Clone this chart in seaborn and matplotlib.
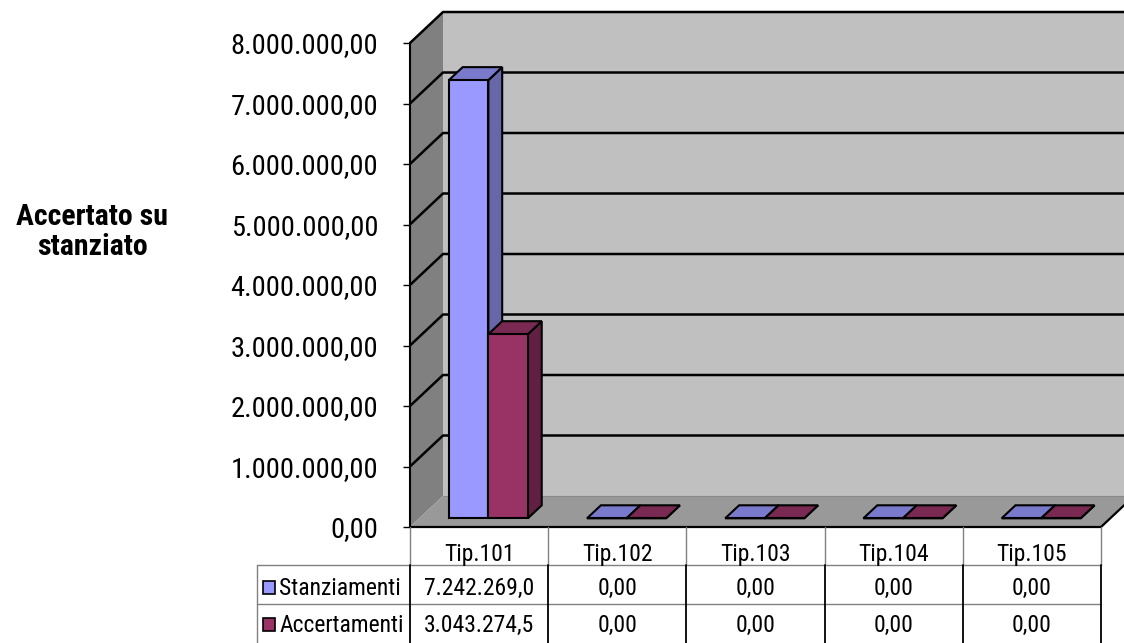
import numpy as np
import pandas as pd
import matplotlib
matplotlib.use("Agg")
import matplotlib.pyplot as plt
from matplotlib.patches import Polygon, Rectangle
from matplotlib.ticker import FuncFormatter
from matplotlib import font_manager
from matplotlib.colors import to_rgba
import seaborn as sns

# ---------------- data ----------------
categories = ["Tip.101", "Tip.102", "Tip.103", "Tip.104", "Tip.105"]
series = ["Stanziamenti", "Accertamenti"]
stanziamenti = [7242269.0, 0.0, 0.0, 0.0, 0.0]
accertamenti = [3043274.5, 0.0, 0.0, 0.0, 0.0]
y_ticks = [0, 1e6, 2e6, 3e6, 4e6, 5e6, 6e6, 7e6, 8e6]
y_label = "Accertato su\nstanziato"

front_colors = ["#9999FF", "#993366"]
side_colors = ["#6666A8", "#611F42"]
top_colors = ["#7A7ACC", "#7A2952"]

# ---------------- fonts ----------------
sns.set_style("white")
names = {f.name for f in font_manager.fontManager.ttflist}
narrow = None
for cand in ["Liberation Sans Narrow", "Arial Narrow", "Roboto Condensed", "Open Sans Condensed"]:
    if cand in names:
        narrow = cand
        break
if narrow:
    FAM = [narrow, "Liberation Sans", "DejaVu Sans"]
    k = 1.0
else:
    FAM = ["Liberation Sans", "DejaVu Sans"]
    k = 0.82
plt.rcParams["font.family"] = FAM
for key in ["text.color", "axes.labelcolor", "xtick.color", "ytick.color"]:
    plt.rcParams[key] = "black"


def it_fmt(v, dec=2):
    s = f"{v:,.{dec}f}"
    return s.replace(",", "X").replace(".", ",").replace("X", ".")


# ---------------- figure ----------------
W, H = 1124, 643
fig = plt.figure(figsize=(W / 100, H / 100), dpi=100)
ax = fig.add_axes([410 / W, 116 / H, 691 / W, 484 / H])
ax.set_facecolor("none")

df = pd.DataFrame({
    "Tipologia": categories * 2,
    "Serie": [series[0]] * len(categories) + [series[1]] * len(categories),
    "Valore": stanziamenti + accertamenti,
})

sns.barplot(data=df, x="Tipologia", y="Valore", hue="Serie",
            order=categories, hue_order=series, palette=front_colors,
            saturation=1, width=0.572, dodge=True, errorbar=None,
            edgecolor="black", linewidth=1.5, legend=False, ax=ax)
bars = list(ax.patches)

x0, x1 = -0.5, len(categories) - 0.5
ymax = 8e6
ax.set_xlim(x0, x1)
ax.set_ylim(0, ymax)
ax.set_xlabel("")
ax.set_ylabel("")
ax.set_xticks([])

# depth offsets in data units
dx = 33 / 138.2
dy = 31 / (484 / 8) * 1e6
f0, f1 = 0.28, 0.70

# walls and floor
ax.add_patch(Polygon([(x0 + dx, dy), (x1 + dx, dy), (x1 + dx, ymax + dy), (x0 + dx, ymax + dy)],
                     closed=True, facecolor="#C0C0C0", edgecolor="none", clip_on=False, zorder=0))
ax.add_patch(Polygon([(x0, 0), (x0 + dx, dy), (x0 + dx, ymax + dy), (x0, ymax)],
                     closed=True, facecolor="#808080", edgecolor="none", clip_on=False, zorder=0.5))
ax.add_patch(Polygon([(x0, 0), (x1, 0), (x1 + dx, dy), (x0 + dx, dy)],
                     closed=True, facecolor="#999999", edgecolor="none", clip_on=False, zorder=0.5))
ax.plot([x0 + dx, x1 + dx], [dy, dy], color="#8a8a8a", lw=0.8, clip_on=False, zorder=0.6)

# gridlines on walls
for v in y_ticks[1:]:
    ax.plot([x0, x0 + dx, x1 + dx], [v, v + dy, v + dy], color="black", lw=1.8,
            solid_capstyle="butt", clip_on=False, zorder=1)

# floor edges
ax.plot([x0, x1, x1 + dx], [0, 0, dy], color="black", lw=1.6, clip_on=False, zorder=2)

# 3D bars
ddx = (f1 - f0) * dx
ddy = (f1 - f0) * dy
bars_sorted = sorted(bars, key=lambda p: p.get_x())
for i, p in enumerate(bars_sorted):
    fc = p.get_facecolor()
    idx = 0 if np.allclose(fc, to_rgba(front_colors[0])) else 1
    x = p.get_x() + f0 * dx
    w = p.get_width()
    h = p.get_height()
    yb = f0 * dy
    p.set_x(x)
    p.set_y(yb)
    z = 3 + i * 0.1
    p.set_zorder(z)
    p.set_joinstyle("miter")
    side = Polygon([(x + w, yb), (x + w + ddx, yb + ddy), (x + w + ddx, yb + h + ddy), (x + w, yb + h)],
                   closed=True, facecolor=side_colors[idx], edgecolor="black", lw=1.5,
                   joinstyle="miter", zorder=z - 0.02, clip_on=False)
    top = Polygon([(x, yb + h), (x + w, yb + h), (x + w + ddx, yb + h + ddy), (x + ddx, yb + h + ddy)],
                  closed=True, facecolor=top_colors[idx], edgecolor="black", lw=1.5,
                  joinstyle="miter", zorder=z - 0.01, clip_on=False)
    ax.add_patch(side)
    ax.add_patch(top)

# axis styling
for s in ["top", "right", "bottom"]:
    ax.spines[s].set_visible(False)
ax.spines["left"].set_color("black")
ax.spines["left"].set_linewidth(1.5)
ax.spines["left"].set_zorder(5)
ax.set_yticks(y_ticks)
ax.yaxis.set_major_formatter(FuncFormatter(lambda v, pos: it_fmt(v)))
ax.tick_params(axis="y", length=5, width=1.0, pad=18, labelsize=20.5 * k,
               colors="black", left=True)
ax.grid(False)

fig.text(92 / W, 1 - 232 / H, y_label, ha="center", va="center", multialignment="center",
         fontsize=21.5 * k, fontweight="bold", linespacing=1.1, family=FAM, color="black")

# ---------------- data table ----------------
tax = fig.add_axes([410 / W, 0, 691 / W, 116 / H])
tax.set_xlim(x0, x1)
tax.set_ylim(3, 0)
tax.axis("off")

row_h = [0.0, 0.98, 1.99, 3.0]
left_edge = x0 - 153 / 138.2
gray = "#808080"
# horizontal lines
for yy in row_h[1:3]:
    tax.plot([left_edge, x1], [yy, yy], color=gray, lw=1.0, clip_on=False)
# verticals
for j in range(len(categories) + 1):
    xx = x0 + j
    tax.plot([xx, xx], [0, row_h[1]], color=gray, lw=1.0, clip_on=False)
    tax.plot([xx, xx], [row_h[1], 3], color="black", lw=1.3, clip_on=False)
tax.plot([left_edge, left_edge], [row_h[1], 3], color=gray, lw=1.0, clip_on=False)

fs_tab = 17.0 * k
for j, c in enumerate(categories):
    tax.text(j, 0.88, c, ha="center", va="baseline", fontsize=fs_tab, clip_on=False)

rows_vals = [stanziamenti, accertamenti]
baselines = [1.76, 2.72]
for r, (name, vals) in enumerate(zip(series, rows_vals)):
    bl = baselines[r]
    tax.add_patch(Rectangle((x0 - 147 / 138.2, bl - 0.36), 12 / 138.2, 0.34,
                            facecolor=front_colors[r], edgecolor="black", lw=1.2, clip_on=False))
    tax.text(x0 - 131 / 138.2, bl, name, ha="left", va="baseline", fontsize=fs_tab, clip_on=False)
    for j, v in enumerate(vals):
        s = it_fmt(v)
        if len(s) > 11:
            s = s[:11]
        tax.text(j, bl, s, ha="center", va="baseline", fontsize=fs_tab, clip_on=False)

fig.savefig("out.png", dpi=100)
